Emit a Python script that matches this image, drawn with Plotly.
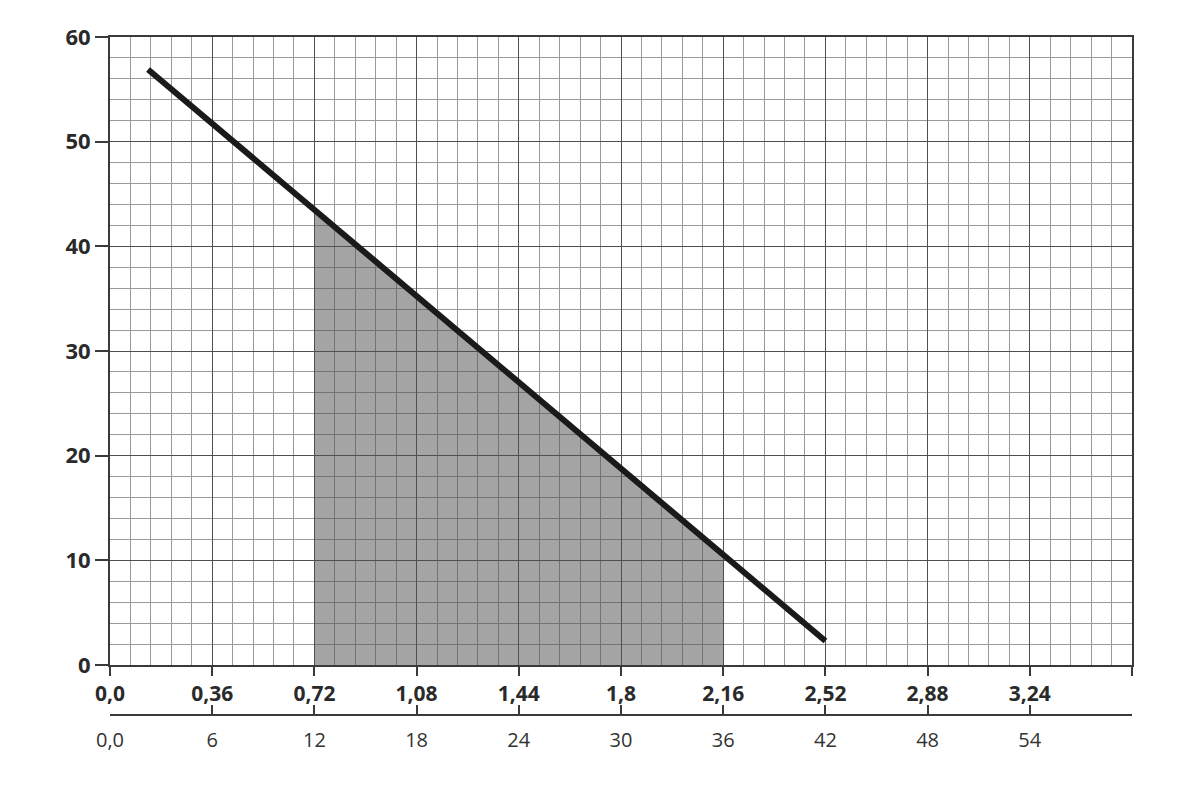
import plotly.graph_objects as go

# ---- data ----
top_tick_vals = [0.0, 0.36, 0.72, 1.08, 1.44, 1.8, 2.16, 2.52, 2.88, 3.24, 3.6]
top_tick_text = ["0,0", "0,36", "0,72", "1,08", "1,44", "1,8", "2,16", "2,52", "2,88", "3,24", ""]
bottom_tick_vals = [0, 6, 12, 18, 24, 30, 36, 42, 48, 54, 60]
bottom_tick_text = ["0,0", "6", "12", "18", "24", "30", "36", "42", "48", "54", ""]
y_tick_vals = [0, 10, 20, 30, 40, 50, 60]
y_tick_text = ["0", "10", "20", "30", "40", "50", "60"]

line_x = [0.134, 2.52]
line_y = [56.9, 2.3]

shade_x = [0.72, 0.72, 2.16, 2.16]
shade_y = [0, 43.5, 10.5, 0]

FONT = "Open Sans"
AXIS_COL = "#3a3a3a"

fig = go.Figure()

fig.add_trace(go.Scatter(
    x=shade_x, y=shade_y, mode="lines", fill="toself",
    fillcolor="rgba(80,80,80,0.52)", line=dict(width=0),
    hoverinfo="skip", showlegend=False))

fig.add_trace(go.Scatter(
    x=line_x, y=line_y, mode="lines",
    line=dict(color="#1a1a1a", width=6),
    hoverinfo="skip", showlegend=False))

# dummy trace to make the second x axis render
fig.add_trace(go.Scatter(
    x=[bottom_tick_vals[0], bottom_tick_vals[-1]], y=[0, 0], xaxis="x2", yaxis="y",
    mode="markers", marker=dict(opacity=0), hoverinfo="skip", showlegend=False))

fig.update_layout(
    width=1200, height=800,
    margin=dict(l=102, r=76, t=29, b=93),
    paper_bgcolor="white", plot_bgcolor="white",
    showlegend=False,
    xaxis=dict(
        range=[0, 3.6], tickmode="array", tickvals=top_tick_vals, ticktext=top_tick_text,
        showgrid=True, gridcolor="#505050", gridwidth=1.3,
        minor=dict(dtick=0.072, tick0=0, showgrid=True, gridcolor="#9a9a9a", gridwidth=1),
        showline=True, linecolor=AXIS_COL, linewidth=2, mirror=True,
        ticks="outside", ticklen=9, tickwidth=1.5, tickcolor=AXIS_COL,
        tickfont=dict(family=FONT, size=21, color="#2a2a2a", weight="bold"),
        zeroline=False, fixedrange=True,
    ),
    xaxis2=dict(
        range=[0, 60], overlaying="x", anchor="free", position=0, side="bottom",
        tickmode="array", tickvals=bottom_tick_vals, ticktext=bottom_tick_text,
        showgrid=False, zeroline=False,
        showline=True, linecolor=AXIS_COL, linewidth=1.5,
        ticks="inside", ticklen=9, tickwidth=1.5, tickcolor=AXIS_COL,
        ticklabelstandoff=7,
        tickfont=dict(family=FONT, size=20, color="#333333"),
    ),
    yaxis=dict(
        range=[0, 60], domain=[50 / 678, 1],
        tickmode="array", tickvals=y_tick_vals, ticktext=y_tick_text,
        showgrid=True, gridcolor="#505050", gridwidth=1.3,
        minor=dict(dtick=2, tick0=0, showgrid=True, gridcolor="#9a9a9a", gridwidth=1),
        showline=True, linecolor=AXIS_COL, linewidth=2, mirror=True,
        ticks="outside", ticklen=13, tickwidth=1.5, tickcolor=AXIS_COL,
        tickfont=dict(family=FONT, size=22, color="#2a2a2a", weight="bold"),
        zeroline=False,
    ),
)

fig.write_html("out.html")
